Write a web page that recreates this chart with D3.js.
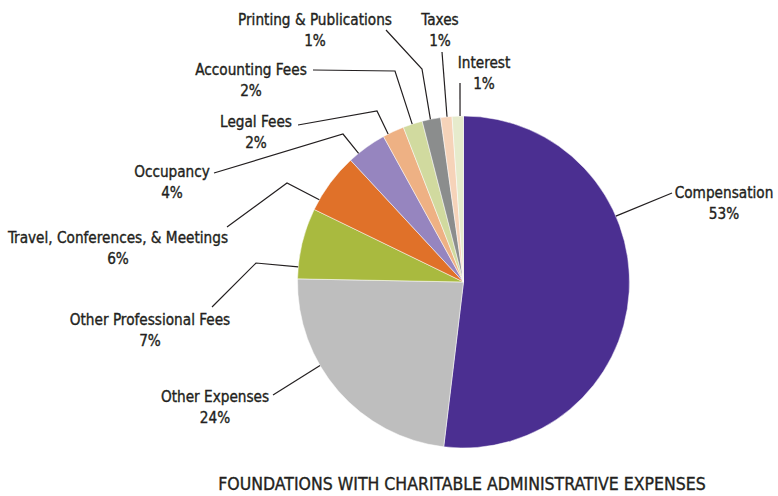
<!DOCTYPE html>
<html>
<head>
<meta charset="utf-8">
<script src="https://cdn.jsdelivr.net/npm/d3@7"></script>
<style>
  body { margin: 0; background: #fff; }
  text { font-family: "DejaVu Sans Condensed", "Liberation Sans Narrow", sans-serif; fill: #231f20; stroke: #231f20; stroke-width: 0.35px; }
</style>
</head>
<body>
<script>
// ---- data ----
var categories = ["Compensation", "Other Expenses", "Other Professional Fees",
  "Travel, Conferences, & Meetings", "Occupancy", "Legal Fees", "Accounting Fees",
  "Printing & Publications", "Taxes", "Interest"];
var shares = [51.9, 23.4, 6.9, 5.9, 3.9, 2.1, 1.9, 1.8, 1.1, 1.1];
var pctLabels = ["53%", "24%", "7%", "6%", "4%", "2%", "2%", "1%", "1%", "1%"];
var colors = ["#4b2f91", "#bebebe", "#a9ba3f", "#e07129", "#9685bf",
  "#eeb184", "#d1da9f", "#8b8d8d", "#f6d3b9", "#e6ebcc"];
var title = "FOUNDATIONS WITH CHARITABLE ADMINISTRATIVE EXPENSES";

// ---- label layout (text centre, leader start, optional elbow, angle on rim) ----
var labelLayout = [
  {cx: 724, y: 193, from: [672, 193], elbow: null,       rim: 66.6},
  {cx: 215, y: 397, from: [273, 395], elbow: null,       rim: 239.8},
  {cx: 150, y: 320, from: [212, 307], elbow: [256, 263], rim: 275.2},
  {cx: 118, y: 238, from: [227, 227], elbow: [287, 183], rim: 299.7},
  {cx: 172, y: 172, from: [214, 173], elbow: [343, 134], rim: 320.8},
  {cx: 256, y: 122, from: [298, 125], elbow: [377, 111], rim: 333},
  {cx: 251, y: 70,  from: [313, 70],  elbow: [395, 71],  rim: 342},
  {cx: 315, y: 20,  from: [386, 30],  elbow: [422, 69],  rim: 348.5},
  {cx: 440, y: 20,  from: [442, 52],  elbow: null,       rim: 354.3},
  {cx: 484, y: 63,  from: [460, 83],  elbow: null,       rim: 358.8}
];

var width = 778, height = 496;
var cx = 463.5, cy = 282, radius = 166;
var lineGap = 21;
var fontSize = 15.2;

var svg = d3.select("body").append("svg")
  .attr("width", width)
  .attr("height", height);

var pie = d3.pie().sort(null).value(function(d) { return d; });
var arc = d3.arc().innerRadius(0).outerRadius(radius);
var arcs = pie(shares);

var g = svg.append("g").attr("transform", "translate(" + cx + "," + cy + ")");

g.selectAll("path.slice")
  .data(arcs)
  .enter().append("path")
    .attr("class", "slice")
    .attr("d", arc)
    .attr("fill", function(d, i) { return colors[i]; })
    .attr("stroke", "#fff")
    .attr("stroke-width", 0.5);

// leader lines
function rimPoint(deg) {
  var a = deg * Math.PI / 180;
  return [cx + radius * Math.sin(a), cy - radius * Math.cos(a)];
}
var line = d3.line();
svg.selectAll("path.leader")
  .data(labelLayout)
  .enter().append("path")
    .attr("class", "leader")
    .attr("d", function(d) {
      var pts = [d.from];
      if (d.elbow) pts.push(d.elbow);
      pts.push(rimPoint(d.rim));
      return line(pts);
    })
    .attr("fill", "none")
    .attr("stroke", "#231f20")
    .attr("stroke-width", 1.2);

// labels
var labels = svg.selectAll("g.label")
  .data(labelLayout)
  .enter().append("g")
    .attr("class", "label");

labels.append("text")
  .attr("x", function(d) { return d.cx; })
  .attr("y", function(d) { return d.y; })
  .attr("dy", "0.35em")
  .attr("text-anchor", "middle")
  .attr("font-size", fontSize)
  .text(function(d, i) { return categories[i]; });

labels.append("text")
  .attr("x", function(d) { return d.cx; })
  .attr("y", function(d) { return d.y + lineGap; })
  .attr("dy", "0.35em")
  .attr("text-anchor", "middle")
  .attr("font-size", fontSize)
  .text(function(d, i) { return pctLabels[i]; });

svg.append("text")
  .attr("x", 462)
  .attr("y", 484)
  .attr("dy", "0.35em")
  .attr("text-anchor", "middle")
  .attr("font-size", 17.5)
  .text(title);
</script>
</body>
</html>
